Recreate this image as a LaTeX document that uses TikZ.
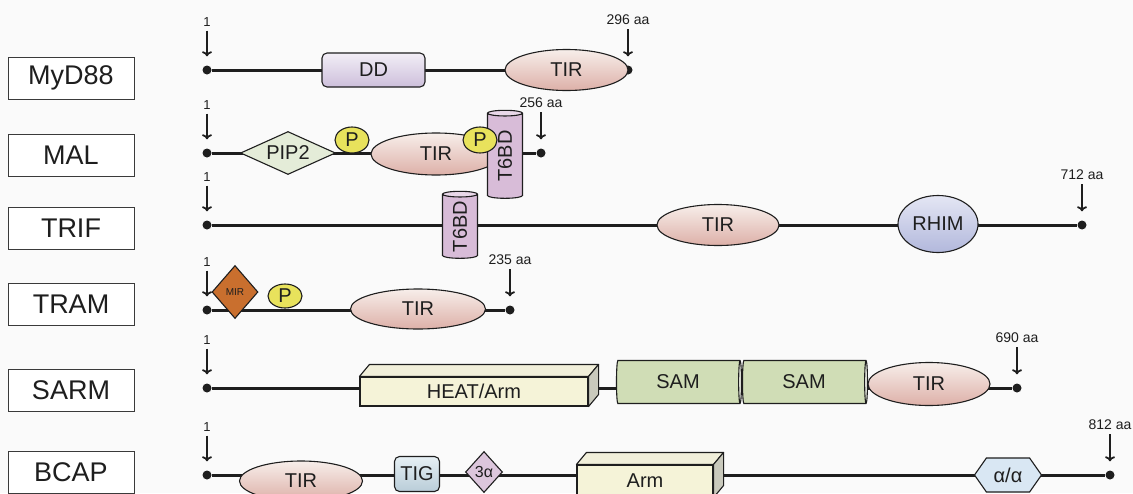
\documentclass[tikz,border=0pt]{standalone}
\usepackage{fontspec}
\setmainfont{Liberation Sans}
\usetikzlibrary{arrows.meta,shapes.geometric,shapes.symbols,calc}
\definecolor{ink}{HTML}{1E1E1E}
\definecolor{frame}{HTML}{3A3A3A}
\definecolor{paper}{HTML}{FAFAFA}
\definecolor{tirTop}{HTML}{F7EEEA}
\definecolor{tirBot}{HTML}{DDB0A8}
\definecolor{ddTop}{HTML}{F2EEF6}
\definecolor{ddBot}{HTML}{CDBFDB}
\definecolor{pipGreen}{HTML}{E4ECD8}
\definecolor{pYellow}{HTML}{E8E25C}
\definecolor{t6Body}{HTML}{D8BCD8}
\definecolor{t6End}{HTML}{E9D8E9}
\definecolor{rhimTop}{HTML}{E4E6F4}
\definecolor{rhimBot}{HTML}{B2B8DC}
\definecolor{mirOrange}{HTML}{C96F2E}
\definecolor{slabFront}{HTML}{F5F3D8}
\definecolor{slabTop}{HTML}{F1EFDA}
\definecolor{slabSide}{HTML}{C9C9BC}
\definecolor{samBody}{HTML}{D0DDB6}
\definecolor{samEnd}{HTML}{F3F5EC}
\definecolor{tigTop}{HTML}{E6EFF4}
\definecolor{tigBot}{HTML}{B9CCD8}
\definecolor{triLav}{HTML}{DCC6DC}
\definecolor{hexBlue}{HTML}{D9E7F3}
\tikzset{
  protein/.style={draw=frame,line width=0.9pt,fill=white,text=ink,
    minimum width=126pt,minimum height=42pt,inner sep=0pt,
    font=\fontsize{27}{30}\selectfont},
  backbone/.style={draw=ink,line width=3pt},
  terminus/.style={circle,fill=ink,inner sep=0pt,minimum size=9pt},
  posnum/.style={inner sep=1pt,text=ink,font=\fontsize{13}{15}\selectfont},
  posaa/.style={posnum,font=\fontsize{14}{16}\selectfont},
  posarrow/.style={draw=ink,line width=1.8pt,-{To[length=5pt,width=10pt]},
    shorten <=3pt,shorten >=9pt},
  dom/.style={draw=ink,line width=1.1pt,inner sep=0pt,text=ink,
    font=\fontsize{20}{23}\selectfont},
  tir/.style={dom,ellipse,minimum width=123pt,minimum height=41pt,
    top color=tirTop,bottom color=tirBot},
  phospho/.style={dom,ellipse,minimum width=34pt,minimum height=26pt,
    fill=pYellow},
  barrel/.style={dom,cylinder,cylinder uses custom fill,
    cylinder body fill=t6Body,cylinder end fill=t6End},
  slab/.style={dom,fill=slabFront},
  slabface/.style={draw=ink,line width=1.1pt,line join=round}
}
% top and side faces of a block domain
\newcommand{\slabfaces}[1]{%
  \filldraw[slabface,fill=slabTop] (#1.north west) -- ++(10,-12)
    -- ($(#1.north east)+(10,-12)$) -- (#1.north east) -- cycle;
  \filldraw[slabface,fill=slabSide] (#1.north east) -- ++(10,-12)
    -- ($(#1.south east)+(10,-12)$) -- (#1.south east) -- cycle;}

\begin{document}
\begin{tikzpicture}[x=1pt,y=-1pt]
  \fill[paper] (0,0) rectangle (1133,493);
  \useasboundingbox (0,0) rectangle (1133,493);

  % protein names
  \foreach \p/\t/\y in {myd/MyD88/78,mal/MAL/155,trif/TRIF/228,
    tram/TRAM/304,sarm/SARM/390,bcap/BCAP/472}
    \node[protein] (\p Name) at (71,\y) {\t};

  % N-terminus
  \foreach \p/\y in {myd/70,mal/153,trif/225,tram/310,sarm/388,bcap/475}{
    \node[terminus] (\p S) at (207,\y) {};
    \node[posnum] (\p One) at (207,\y-48) {1};
    \draw[posarrow] (\p One) -- (\p S);
  }

  % C-terminus and length
  \foreach \p/\x/\y/\n in {myd/628/70/296,mal/541/153/256,trif/1082/225/712,
    tram/510/310/235,sarm/1017/388/690,bcap/1110/475/812}{
    \node[terminus] (\p E) at (\x,\y) {};
    \node[posaa] (\p Len) at (\x,\y-50) {\n\ aa};
    \draw[posarrow] (\p Len) -- (\p E);
    \draw[backbone] (\p S) -- (\p E);
  }

  % MyD88
  \node[dom,rounded corners=5pt,minimum width=103pt,minimum height=34pt,
    top color=ddTop,bottom color=ddBot] (mydDD) at (373.5,70) {DD};
  \node[tir] (mydTIR) at (566.5,70) {TIR};

  % MAL
  \node[dom,diamond,aspect=2.2,minimum width=95pt,minimum height=43pt,
    fill=pipGreen] (malPIP) at (288,153) {PIP2};
  \node[tir,minimum width=130pt,minimum height=42pt] (malTIR) at (436,154) {TIR};
  \node[phospho] (malP1) at (352,140) {P};
  \node[barrel,rotate=90,aspect=0.4,minimum height=88pt,minimum width=35pt]
    (malT6) at (505,156) {T6BD};
  \node[phospho] (malP2) at (480,140) {P};

  % TRIF
  \node[barrel,rotate=90,aspect=0.4,minimum height=67pt,minimum width=35pt]
    (trifT6) at (460,226.5) {T6BD};
  \node[tir,minimum width=122pt] (trifTIR) at (718,225) {TIR};
  \node[dom,ellipse,minimum width=80pt,minimum height=57pt,
    top color=rhimTop,bottom color=rhimBot] (trifRHIM) at (938,224) {RHIM};

  % TRAM
  \node[dom,diamond,minimum width=46pt,minimum height=53pt,fill=mirOrange,
    font=\fontsize{10}{12}\selectfont] (tramMIR) at (235,292) {MIR};
  \node[phospho,minimum height=24pt] (tramP) at (285,296) {P};
  \node[tir,minimum width=135pt,minimum height=40pt] (tramTIR) at (418,309) {TIR};

  % SARM
  \node[slab,minimum width=228pt,minimum height=29pt] (sarmHEAT)
    at (474,391.5) {HEAT/Arm};
  \slabfaces{sarmHEAT}
  \node[barrel,cylinder body fill=samBody,cylinder end fill=samEnd,aspect=0.2,
    minimum height=125pt,minimum width=43pt] (sarmSAM1) at (678,382) {SAM};
  \node[barrel,cylinder body fill=samBody,cylinder end fill=samEnd,aspect=0.2,
    minimum height=125pt,minimum width=43pt] (sarmSAM2) at (804,382) {SAM};
  \node[tir,minimum width=122pt,minimum height=43pt] (sarmTIR) at (929,384) {TIR};

  % BCAP
  \node[tir,minimum height=40pt] (bcapTIR) at (301,481) {TIR};
  \node[dom,rounded corners=5pt,minimum width=45pt,minimum height=35pt,
    top color=tigTop,bottom color=tigBot] (bcapTIG) at (417,474) {TIG};
  \node[dom,diamond,minimum width=37pt,minimum height=41pt,fill=triLav,
    font=\fontsize{16}{18}\selectfont] (bcapTri) at (484,472) {3α};
  \node[slab,minimum width=136pt,minimum height=32pt] (bcapArm)
    at (645,481) {Arm};
  \slabfaces{bcapArm}
  \node[dom,signal,signal to=west and east,signal pointer angle=110,
    minimum width=67pt,minimum height=34pt,fill=hexBlue] (bcapAA)
    at (1008,475) {α/α};
\end{tikzpicture}
\end{document}
